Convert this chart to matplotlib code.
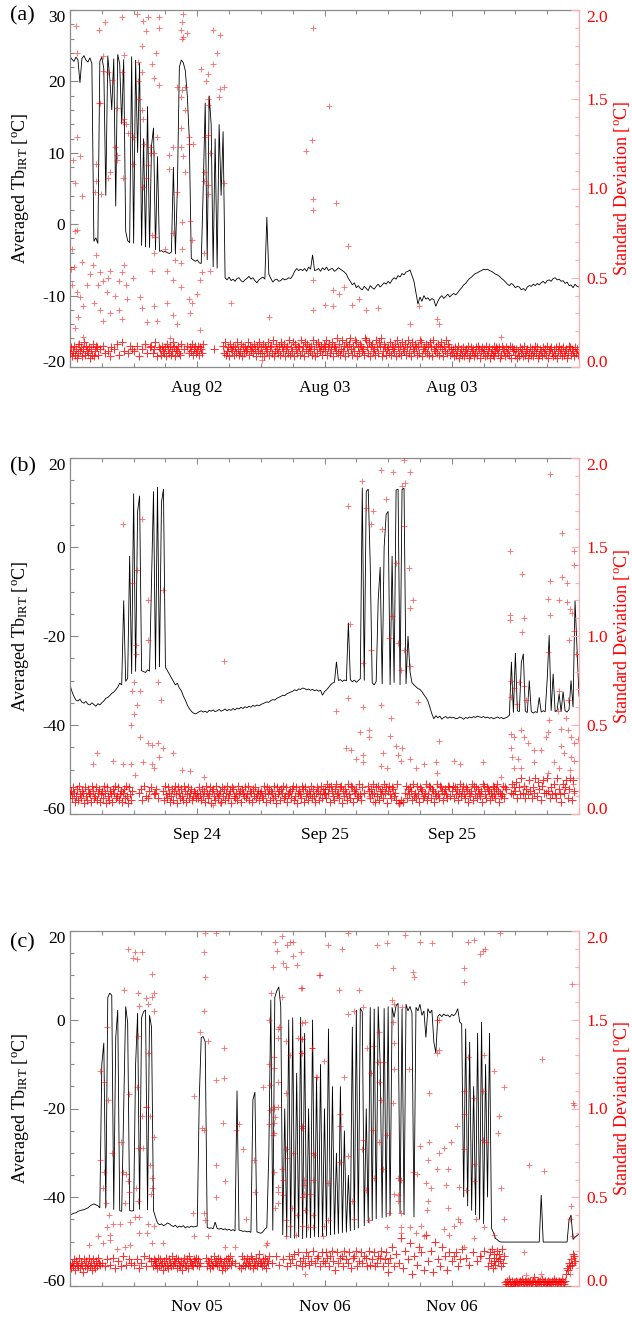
import matplotlib
matplotlib.use("Agg")
import matplotlib.pyplot as plt
from matplotlib.ticker import MultipleLocator

plt.rcParams['font.family'] = ['Liberation Serif', 'DejaVu Serif']
plt.rcParams['mathtext.fontset'] = 'custom'
plt.rcParams['mathtext.rm'] = 'Liberation Serif'
plt.rcParams['mathtext.it'] = 'Liberation Serif:italic'
plt.rcParams['axes.unicode_minus'] = False

# ---------------------------------------------------------------- data
# Averaged IRT brightness temperature [degC], one value every 0.25 h
TB_STEP = 0.25
TB_A = [
    23.5, 23.1, 22.8, 23.4, 23.0, 19.8, 23.2, 23.6, 23.0, 22.7, 23.3, 22.5, -2.4, -1.9, -2.7, 22.8,
    23.4, 21.8, 4.0, 23.6, 20.5, 16.0, 23.2, 2.5, 23.8, 22.4, 14.0, 23.1, -1.0, -2.3, -2.6, 23.5,
    -2.7, 23.0, 10.0, 22.6, -3.0, 12.0, -3.2, 16.5, -3.3, 11.0, 13.5, -3.6, 9.5, -3.8, -3.7, -3.9,
    -3.8, -4.0, -4.1, -3.9, 8.0, -4.2, 5.0, 22.0, 23.0, 22.6, 21.5, 18.0, 12.0, -4.8, -5.0, -5.2,
    -5.0, -5.4, -5.5, 5.0, 17.0, -5.0, 18.0, 14.0, -6.0, 12.0, -6.2, 14.0, 4.0, 13.0, -7.5, -7.8,
    -7.4, -7.9, -7.7, -8.0, -7.6, -7.5, -7.9, -8.1, -7.8, -7.6, -7.3, -7.7, -7.5, -7.9, -8.2, -7.8,
    -7.6, -7.4, -7.7, 1.0, -7.0, -7.6, -8.1, -7.8, -7.7, -8.0, -7.9, -7.6, -7.8, -7.7, -7.5, -7.6,
    -7.2, -6.6, -6.2, -6.5, -6.3, -6.5, -6.2, -6.6, -6.0, -6.3, -4.3, -6.5, -6.4, -6.2, -6.6, -6.1,
    -6.4, -6.0, -6.5, -6.3, -6.2, -6.6, -6.4, -6.1, -6.3, -6.5, -6.7, -7.0, -7.6, -8.0, -8.5, -8.2,
    -8.9, -8.6, -9.0, -9.2, -8.7, -9.0, -9.3, -8.6, -8.9, -9.1, -8.7, -8.4, -8.8, -8.5, -8.2, -8.4,
    -8.0, -8.3, -7.8, -7.5, -7.7, -7.2, -7.4, -6.9, -7.1, -6.7, -6.6, -6.4, -7.2, -8.0, -9.6, -11.2,
    -10.2, -10.8, -10.0, -10.5, -10.3, -10.7, -10.4, -10.6, -11.5, -10.8, -10.3, -10.0, -10.4, -10.1, -9.8, -10.2,
    -9.9, -9.7, -9.9, -9.6, -9.2, -8.9, -8.5, -8.3, -7.9, -7.6, -7.4, -7.1, -6.9, -6.8, -6.6, -6.5,
    -6.3, -6.4, -6.3, -6.5, -6.6, -6.8, -7.0, -7.1, -7.3, -7.6, -7.8, -8.1, -8.4, -8.6, -8.3, -8.5,
    -8.9, -8.7, -8.8, -9.2, -9.0, -9.3, -8.8, -8.6, -8.7, -8.4, -8.6, -8.3, -8.5, -8.2, -8.0, -8.3,
    -7.9, -7.8, -8.0, -7.6, -7.5, -7.8, -7.7, -8.0, -7.9, -8.3, -8.1, -8.6, -8.5, -8.9, -8.4, -8.7,
    -8.8,
]
TB_B = [
    -31.0, -32.5, -33.6, -34.4, -34.6, -34.2, -34.9, -35.1, -34.7, -35.3, -35.5, -35.0, -35.4, -35.8, -35.2, -35.5,
    -35.0, -34.6, -34.0, -33.8, -33.4, -32.9, -32.6, -32.1, -31.5, -30.6, -31.0, -12.0, -30.2, -29.5, -2.0, -28.5,
    12.0, -28.0, 8.0, 11.5, -27.8, -28.0, -28.2, -27.6, -27.9, -8.0, 12.5, -27.5, 13.5, -27.0, 10.0, 13.0,
    -27.0, -27.8, -28.6, -29.4, -30.2, -31.0, -30.6, -31.7, -32.3, -33.5, -34.4, -35.5, -36.3, -36.9, -37.3, -37.5,
    -37.3, -37.0, -36.8, -37.1, -36.9, -37.2, -36.7, -36.9, -36.6, -37.0, -36.8, -36.5, -36.9, -36.7, -36.4, -36.8,
    -36.5, -36.7, -36.3, -36.6, -36.2, -36.4, -36.0, -36.3, -35.9, -36.1, -35.8, -36.0, -35.6, -35.8, -35.5, -35.7,
    -35.4, -35.2, -35.0, -34.8, -34.9, -34.5, -34.3, -34.4, -34.0, -33.8, -33.6, -33.3, -33.4, -33.0, -32.8, -32.6,
    -32.4, -32.1, -32.3, -31.9, -32.0, -31.7, -31.8, -32.1, -31.9, -32.2, -32.0, -32.3, -32.1, -32.4, -32.2, -33.3,
    -32.5, -32.1, -31.6, -31.0, -30.6, -30.4, -25.8, -30.0, -29.8, -30.2, -29.9, -30.1, -17.0, -29.8, -30.3, -29.9,
    -30.4, -30.0, -29.6, 13.3, -30.0, 12.5, 13.0, -4.0, -30.5, -31.0, -30.2, -12.0, -4.5, -30.8, 0.0, 7.3,
    8.0, -31.0, -2.0, -30.5, 12.8, 13.0, -31.0, 12.9, 13.2, -30.8, -20.0, -28.0, -30.5, -31.0, -31.4, -31.8,
    -32.0, -32.5, -33.2, -33.8, -34.6, -36.0, -37.5, -38.6, -37.9, -38.4, -38.0, -38.7, -38.3, -38.1, -38.5, -38.2,
    -38.4, -38.3, -38.6, -38.5, -38.2, -38.4, -38.7, -38.3, -38.5, -38.2, -38.4, -38.1, -38.3, -38.0, -38.2, -38.3,
    -38.1, -38.4, -38.2, -38.5, -38.3, -38.6, -38.4, -38.2, -38.5, -38.3, -38.6, -38.4, -38.2, -37.8, -25.8, -37.2,
    -23.8, -36.8, -37.0, -26.0, -24.0, -36.9, -37.2, -30.0, -37.0, -37.3, -37.0, -37.2, -33.8, -37.1, -36.8, -37.0,
    -29.8, -19.8, -36.8, -28.5, -37.0, -36.7, -33.0, -37.0, -32.5, -36.8, -37.1, -36.5, -30.0, -36.0, -12.0, -23.0,
    -33.5,
]
TB_C = [
    -44.0, -43.8, -43.6, -43.5, -43.2, -43.0, -42.9, -42.8, -42.6, -42.4, -42.0, -41.7, -41.5, -41.7, -41.9, -42.4,
    -10.0, -5.2, -42.5, 5.0, 6.0, 5.5, -42.8, -4.0, 2.2, -43.0, -43.2, -20.0, 3.0, -0.7, -43.0, -43.1,
    -43.0, -10.0, 1.5, -42.8, 0.5, 1.8, 2.2, -42.9, 1.0, -1.6, -43.0, -44.5, -45.8, -46.2, -46.0, -46.4,
    -46.2, -45.8, -46.0, -46.4, -46.6, -46.3, -46.8, -46.5, -46.7, -46.4, -46.9, -46.6, -46.8, -46.5, -46.7, -46.6,
    -46.5, -18.0, -4.0, -3.8, -5.0, -46.8, -47.0, -46.9, -47.1, -45.6, -47.0, -47.2, -47.0, -47.3, -47.1, -47.4,
    -47.2, -47.5, -47.3, -47.6, -16.0, -47.4, -47.5, -47.7, -47.6, -47.8, -47.7, -47.9, -18.0, -16.3, -47.8, -48.0,
    -48.1, -47.8, -47.2, -46.8, -30.0, 4.5, -47.5, 5.0, 6.5, 7.4, 3.0, -48.5, -20.0, -49.0, 0.0, -49.2,
    0.5, -49.3, -12.0, -49.0, 0.6, -49.4, -3.0, -49.1, -20.0, -49.2, 0.0, -48.9, -13.0, -49.0, -10.0, -48.8,
    -20.0, -48.7, -2.0, -48.5, -15.0, -48.4, -30.0, -48.2, -15.0, -48.0, -25.0, -47.9, -35.0, -47.6, -1.6, -47.4,
    2.2, -47.0, 2.6, 1.8, -46.5, -20.0, -45.8, 2.8, -45.3, 2.5, -44.9, 3.0, -10.0, -44.6, 2.6, -44.5,
    3.0, -44.2, 2.8, 0.5, 3.2, 3.7, -43.6, 2.5, -44.0, 3.5, 2.0, 3.0, 1.5, -44.5, 2.8, 2.0,
    3.5, 1.0, 2.0, -4.0, 2.5, 1.5, 2.2, -5.0, -7.5, 0.8, 1.2, 0.7, 1.3, 0.9, 1.1, 0.6,
    1.2, 0.9, 1.4, 2.5, -0.5, -1.0, -40.0, -2.0, -42.0, -5.0, -43.0, -15.0, -44.0, -3.0, -45.0, -0.5,
    -46.0, -10.0, -40.0, -3.0, -47.0, -48.0, -49.3, -49.6, -50.0, -50.1, -50.1, -50.1, -50.1, -50.1, -50.1, -50.1,
    -50.1, -50.1, -50.1, -50.1, -50.1, -50.1, -50.1, -50.1, -50.1, -50.1, -50.1, -50.1, -50.1, -39.5, -50.1, -50.1,
    -50.1, -50.1, -50.1, -50.1, -50.1, -50.1, -50.1, -50.1, -50.1, -50.1, -50.1, -45.0, -44.0, -49.5, -49.0, -48.6,
    -48.3,
]

# Standard deviation of the bulk of samples, coded one character per
# 0.125 h (base-36 digit x 0.01 degC, '.' = no sample); one row = 8 h
SD_STEP = 0.125
SD_ROW_HOURS = 8.0
SD_UNIT = 0.01
SD_BAND_A = [
    "8b69c7a58d9b6ae7c98b5a7d69cb" "7.a..c.8..9.6b..a..d.7..e.9...8.c.a",
    "9..c.6..a..d.8..b" "c.8a.e.6.b" "a7c98b6da8c79eb6a9c87d" "..a..c.8" "b9d7ac8",
    "9c7ba8d" "..........a........" "c8e79b6da9c7b8ea79d6c8b9ae7c9b8da6c9e8",
    "b8d6ca9e7bc8f69da8c7eb9d6ac8f7b9e6da8cb7f9c6ead8b9c7fa6d8eb9c7ad",
    "c9f7bd8ae6cb9g8d7af9c6eb8dga7c9fe6b8dc9a7gfb8e6cd9a7fb8ecg69db7a",
    "b8e7ca9d6fb8c7ea9d7bf8c6ea9db7c8fe6ab9d8c7eb6fa9c8d7bea6c9f8db7a",
    "8a6b79c58a7b69a8c57b9a68b7ca59b8a6c79b58a7c69ba8b57ca96b8a7c5b9a",
    "7a596b8a6c79a58b7a69c8b57a96b8a7c59ab86a7b59c8a6b79a58cb7a96b8a7",
]
SD_BAND_B = [
    "bd9fc7ae8gb9dc6fa8ecb7gd9af8ce7bd9gc6fa8db7ecg9af8bd7ce9ga6fb8d..",
    "....." "c.e8.g.a.9d.f..bc.e.9." "..." "d8gb9fc7ae8dgb6fc9ea8gd7bf9ce8" "adc9",
    "c9fb8ead7gc9bf6dea8gc9bd7fae8cg9bd6fea9c8gbd7ecaf9bg8dc7eaf9bd8c",
    "da9gc7fbe8dc9ga6fbd8ecg9af7bcd9eg8af6cdb9ge7fac8dbg9ea7cfd8bg9ec",
    "eb9hcf7gda8ehbc9fg6daec8hb9gf7dce9ahb8f" ".c..." "gd9ebhc7fag8dbe9hcf6",
    "dgb9feac8h" ".6.8.7." "cg9ebfd8hac9gb7fed9ach8bgf9ed7cahb9gfd8ceb9gfa",
    "dg9fbe8chadgb9fe7cadh8gbf9ecad7hgb9fed8cagbf9ehd7cabg9fe" "...." "chbf",
    "di9.fbk.cg9e.bjd.9fck.aie.8gjc.ckd.9fb.hc9k.eb7.hcfj.9ek.8jd....",
]
SD_BAND_C = [
    "cadbf9ecbgadc8fbeacgbd9fcaebgdc" ".d..b.f..c..g.a..e..b.h..c..f.d.",
    "c..f.a.d..h.b..g.e." "bfcedagbfcd9ebgcafdbhcedgafcbe9dgcbfahedcbfeg",
    "cfbd" "....." "gbedafcbhdecgbfd9ceafbgdhce" "..d...b." "ahcfbdgcebhfadcgbeid",
    "dbfcgaedh" "..d...h..c...f..." "b.hd.f.i.c.j.e.b" "g.dj.hc.e.k.d.gh.b.je.",
    "d.jg.bh.ke.9.jd.g.hbk.f.dj.a.gh.kb.e.jd.h.gb.kc.f.jb.dh.gk.b.fj.d.",
    "8.g.m.b.i..d.r.a.k..f.o.7.h..c.m.j..9.t.e..k.8.p..f.b.m..h.9.j..",
    "e.h.j.b.f" ".l...g..c...j...e..h...k..." "bgjdlaeicgkeifbldh" "2131420312",
    "232123242132232312352123231422312322132423123224213" "7a9dbfcihe" "...",
]

# Isolated high standard-deviation samples: (hours, degC)
SD_HIGH_A = [
    (0.8, 1.91), (6.6, 1.96), (3.7, 1.89), (4.4, 1.93), (8.4, 1.98), (9.8, 1.96), (9.2, 1.94), (9.6, 1.88),
    (11.2, 1.96), (11.2, 1.90), (14.2, 1.98), (14.1, 1.93), (14.0, 1.89), (14.7, 1.87), (14.2, 1.85),
    (18.0, 1.89), (18.9, 1.86), (18.5, 1.76), (18.0, 1.70), (16.5, 1.67), (17.3, 1.64), (17.1, 1.60),
    (18.9, 1.56), (19.4, 1.57), (18.7, 1.51), (17.4, 1.50), (17.3, 1.47), (10.8, 1.76), (10.3, 1.70),
    (10.6, 1.62), (11.2, 1.58), (9.0, 1.80), (8.6, 1.71), (9.1, 1.65), (8.6, 1.60), (8.7, 1.50),
    (9.0, 1.44), (6.8, 1.75), (6.6, 1.65), (4.2, 1.74), (4.2, 1.66), (3.8, 1.48), (4.8, 1.65), (5.3, 1.61),
    (5.9, 1.45), (0.9, 1.76), (0.9, 1.29), (1.3, 1.18), (0.4, 1.16), (0.6, 1.03), (1.5, 0.96),
    (14.1, 1.84), (13.5, 1.57), (14.4, 1.57), (14.1, 1.55), (14.0, 1.51), (14.4, 1.44), (13.9, 1.34),
    (13.9, 1.23), (14.2, 1.18), (14.5, 1.09), (14.9, 1.25), (15.5, 1.25), (13.0, 1.23), (12.4, 1.19),
    (12.4, 1.11), (13.5, 0.98), (14.9, 1.29), (6.8, 1.39), (7.1, 1.36), (6.7, 1.37), (7.3, 1.31),
    (7.9, 1.29), (9.2, 1.39), (9.3, 1.25), (10.1, 1.23), (11.0, 1.29), (10.0, 1.20), (9.8, 1.13),
    (10.6, 1.20), (17.0, 1.29), (17.3, 1.30), (17.6, 1.20), (16.9, 1.04), (17.3, 0.97), (19.4, 1.03),
    (16.9, 1.09), (17.4, 1.02), (5.0, 1.09), (4.8, 1.06), (5.9, 1.16), (5.7, 1.23), (5.9, 1.19),
    (6.7, 1.06), (7.9, 1.14), (9.5, 1.06), (9.2, 1.01), (3.3, 1.14), (3.3, 1.04), (3.2, 0.98),
    (3.9, 0.97), (3.7, 1.48),
    (30.5, 1.90), (32.6, 1.46), (30.4, 1.27), (29.7, 1.21), (30.5, 0.94), (30.5, 0.88), (33.4, 0.92),
    (34.9, 0.68), (30.6, 0.49), (33.1, 0.43), (34.4, 0.45), (33.8, 0.41), (30.6, 0.32), (32.1, 0.35),
    (33.1, 0.34), (35.5, 0.35), (36.3, 0.38), (37.2, 0.32), (38.7, 0.33), (42.8, 0.24), (43.9, 0.34),
    (46.2, 0.27), (46.4, 0.24), (54.2, 0.17),
    (0.3, 0.66), (0.1, 0.55), (0.5, 0.56), (1.5, 0.59), (0.3, 0.46), (0.9, 0.42), (1.3, 0.39),
    (2.1, 0.46), (2.5, 0.52), (2.9, 0.57), (3.3, 0.63), (3.0, 0.36), (3.5, 0.46), (3.8, 0.53),
    (4.2, 0.48), (4.7, 0.42), (4.8, 0.50), (5.0, 0.54), (5.7, 0.40), (6.1, 0.48), (6.6, 0.53),
    (6.8, 0.57), (7.1, 0.46), (7.9, 0.50), (8.8, 0.39), (9.1, 0.33), (7.2, 0.38), (6.6, 0.27),
    (6.1, 0.32), (5.0, 0.30), (4.2, 0.26), (3.8, 0.32), (1.6, 0.34), (1.0, 0.28), (0.6, 0.22),
    (10.3, 0.54), (10.5, 0.64), (10.5, 0.34), (12.2, 0.54), (12.2, 0.36), (13.0, 0.49), (12.9, 0.29),
    (13.9, 0.45), (13.5, 0.24), (14.9, 0.38), (15.1, 0.30), (15.4, 0.36), (16.0, 0.41), (16.4, 0.49),
    (16.6, 0.53), (15.4, 0.71), (16.8, 0.64), (17.6, 0.54), (13.9, 0.58), (14.1, 0.66), (13.0, 0.75),
    (13.2, 0.60), (10.7, 0.73), (12.0, 0.66), (20.2, 0.36), (25.0, 0.28), (24.2, 0.04), (12.6, 0.16),
    (16.4, 0.21), (9.7, 0.25), (11.0, 0.26), (1.0, 0.13), (1.6, 0.17), (0.6, 0.76), (0.9, 0.77),
    (15.1, 0.82), (14.1, 0.81), (10.3, 0.74),
]
SD_HIGH_B = [
    (7.7, 0.50), (8.1, 0.56), (8.4, 0.61), (7.8, 0.69), (8.8, 0.69), (8.1, 0.74), (8.3, 0.90), (8.3, 0.95),
    (9.8, 0.98), (11.1, 0.74), (11.5, 0.64), (8.8, 0.43), (9.8, 0.40), (10.3, 0.39), (11.1, 0.40),
    (11.7, 0.37), (11.2, 0.32), (12.9, 0.34), (9.2, 0.29), (10.3, 0.28), (10.6, 0.26), (3.4, 0.34),
    (5.4, 0.30), (2.9, 0.28), (6.7, 0.28), (7.7, 0.28), (19.4, 0.86), (14.1, 0.25), (8.2, 0.22),
    (16.9, 0.21), (15.1, 0.24), (18.0, 0.05), (18.9, 0.06),
    (6.7, 1.63), (9.1, 1.66), (8.4, 1.37), (7.8, 1.30), (9.8, 1.20), (11.7, 1.26),
    (35.0, 1.73), (36.7, 1.87), (39.1, 1.93), (40.6, 1.92), (42.7, 1.92), (42.0, 1.99), (42.1, 1.86),
    (41.8, 1.84), (37.2, 1.72), (38.1, 1.70), (37.9, 1.63), (39.7, 1.77), (39.2, 1.60), (42.0, 1.62),
    (41.0, 1.41), (42.6, 1.38), (43.1, 1.20), (42.7, 1.16), (40.5, 1.11), (55.3, 1.48), (56.8, 1.35),
    (60.4, 1.91), (61.9, 1.58), (63.4, 1.48), (63.4, 1.40), (60.4, 1.31), (61.9, 1.33), (62.5, 1.30),
    (60.1, 1.21), (61.5, 1.20), (62.5, 1.19), (62.9, 1.15), (63.1, 1.13), (60.4, 1.12), (55.3, 1.12),
    (57.1, 1.10),
    (35.2, 1.07), (37.8, 0.92), (40.1, 0.99), (41.2, 0.96), (42.0, 0.92), (36.8, 0.85), (41.6, 0.81),
    (42.8, 0.83), (35.0, 0.65), (33.4, 0.58), (36.8, 0.60), (39.1, 0.61), (40.3, 0.54), (43.7, 0.63),
    (36.5, 0.46), (37.6, 0.47), (37.6, 0.43), (40.2, 0.44), (46.4, 0.41), (34.7, 0.37), (35.3, 0.36),
    (35.9, 0.31), (36.8, 0.33), (36.9, 0.29), (39.4, 0.34), (41.0, 0.38), (41.8, 0.37), (41.2, 0.33),
    (41.6, 0.30), (42.8, 0.31), (39.1, 0.27), (39.9, 0.26), (43.5, 0.26), (44.5, 0.28), (46.0, 0.29),
    (48.3, 0.30), (49.1, 0.28), (51.9, 0.29), (54.2, 0.21), (46.2, 0.23), (55.3, 1.09), (56.8, 1.02),
    (55.4, 0.75), (55.8, 0.71), (56.5, 0.74), (55.4, 0.66), (56.2, 0.62), (57.1, 0.72), (57.3, 0.64),
    (55.4, 0.45), (55.8, 0.43), (56.7, 0.47), (57.1, 0.43), (57.6, 0.40), (58.3, 0.36), (55.4, 0.37),
    (55.6, 0.32), (56.3, 0.31), (55.8, 0.26), (56.7, 0.26), (58.3, 0.29), (59.2, 0.36), (59.9, 0.43),
    (60.1, 0.46), (60.2, 0.53), (60.1, 0.91), (61.4, 0.58), (61.5, 0.69), (62.6, 0.64), (62.4, 0.54),
    (62.8, 0.98), (63.4, 1.03), (63.6, 0.90), (61.7, 0.48), (62.6, 0.47), (63.0, 0.43), (63.4, 0.40),
    (63.9, 0.42), (61.7, 0.38), (62.1, 0.34), (63.0, 0.32), (63.4, 0.30), (60.9, 0.29), (61.5, 0.26),
    (62.9, 0.25), (60.1, 0.23), (63.3, 0.17), (63.4, 0.12), (41.2, 0.06), (41.5, 0.06), (38.1, 0.07),
    (37.6, 0.10),
]
SD_HIGH_C = [
    (7.3, 1.90), (7.9, 1.85), (8.2, 1.88), (9.0, 1.88), (8.4, 1.84), (6.8, 1.67), (10.3, 1.76), (8.6, 1.65),
    (9.5, 1.62), (10.5, 1.65), (10.3, 1.63), (8.7, 1.58), (9.8, 1.59), (10.6, 1.55), (4.7, 1.46),
    (8.6, 1.41), (9.8, 1.31), (3.8, 1.21), (4.3, 1.15), (4.8, 1.05), (7.4, 1.08), (8.4, 1.12), (9.6, 1.01),
    (16.8, 1.88), (17.0, 1.99), (18.3, 1.99), (17.0, 1.74), (16.8, 1.55), (16.4, 1.43), (17.4, 1.38),
    (18.3, 1.16), (19.4, 1.17), (19.4, 1.34), (15.6, 1.07), (25.8, 1.94), (26.6, 1.97), (27.6, 1.94),
    (28.1, 1.94), (27.3, 1.92), (26.0, 1.89), (28.1, 1.86), (29.1, 1.88), (25.5, 1.80), (26.8, 1.82),
    (27.1, 1.80), (28.5, 1.81), (29.2, 1.68), (25.3, 1.65), (26.6, 1.63), (25.0, 1.50), (26.2, 1.45),
    (26.3, 1.46), (26.1, 1.40), (27.1, 1.38), (28.7, 1.40), (29.5, 1.49), (29.2, 1.39), (29.1, 1.31),
    (27.6, 1.30), (25.7, 1.29), (25.0, 1.25), (25.6, 1.23), (30.4, 1.34), (31.0, 1.18), (31.3, 1.75),
    (26.2, 1.15), (24.3, 1.12), (25.1, 1.13), (27.1, 1.09), (25.7, 1.01),
    (32.5, 1.92), (34.2, 1.90), (38.6, 1.92), (39.8, 1.93), (42.1, 1.98), (44.0, 1.94), (45.5, 1.93),
    (50.0, 1.94), (50.8, 1.95), (52.2, 1.90), (51.9, 1.89), (51.5, 1.87), (54.1, 1.99), (35.0, 1.99),
    (40.6, 1.79), (43.1, 1.77), (43.3, 1.74), (49.6, 1.79), (49.6, 1.71), (31.4, 1.75), (33.8, 1.67),
    (36.3, 1.67), (29.1, 1.68), (63.1, 1.70), (35.0, 1.53), (35.7, 1.55), (36.8, 1.57), (40.5, 1.61),
    (40.8, 1.59), (41.8, 1.57), (40.6, 1.49), (46.2, 1.50), (29.2, 1.48), (29.2, 1.39), (30.4, 1.34),
    (31.9, 1.27), (29.2, 1.31), (30.9, 1.18), (34.4, 1.18), (37.3, 1.34), (38.1, 1.35), (38.8, 1.43),
    (37.9, 1.20), (38.7, 1.26), (38.8, 1.15), (39.4, 1.26), (40.8, 1.22), (40.8, 1.37), (42.6, 1.22),
    (46.1, 1.31), (46.4, 1.33), (45.1, 1.09), (46.4, 1.50), (49.6, 1.10), (50.0, 1.29), (51.9, 1.10),
    (52.0, 1.30), (53.3, 1.21), (54.6, 1.12), (59.4, 1.28), (63.3, 1.03), (50.8, 1.06), (39.1, 1.05),
    (40.6, 1.03),
    (3.8, 0.71), (4.3, 0.64), (4.2, 0.55), (4.5, 0.47), (4.9, 0.40), (4.7, 0.33), (5.3, 0.75), (6.4, 0.81),
    (6.7, 0.64), (7.3, 0.59), (7.1, 0.63), (7.4, 0.53), (6.9, 0.47), (6.3, 0.35), (5.4, 0.35), (5.0, 0.29),
    (5.0, 0.26), (7.6, 0.36), (8.2, 0.39), (8.6, 0.78), (9.2, 0.78), (9.0, 0.96), (10.1, 0.96), (9.5, 1.01),
    (10.0, 0.68), (10.3, 0.61), (10.6, 0.84), (10.3, 0.55), (10.2, 0.52), (8.3, 0.55), (8.6, 0.48),
    (8.7, 0.39), (9.8, 0.35), (10.5, 0.34), (8.7, 0.30), (9.7, 0.30), (7.6, 0.23), (6.9, 0.22), (4.2, 0.24),
    (5.9, 0.21), (10.3, 0.24), (11.7, 0.24), (2.4, 0.23), (3.5, 0.28), (15.6, 0.28), (17.3, 0.28),
    (16.6, 0.89), (16.8, 0.88), (18.3, 0.68), (18.4, 0.50), (19.5, 0.59), (19.2, 0.92), (20.9, 0.88),
    (21.3, 0.91), (21.7, 0.77), (23.1, 0.71), (23.2, 0.53), (22.1, 0.38), (16.8, 0.41), (17.0, 0.37),
    (15.5, 0.41), (19.5, 0.22), (20.8, 0.22), (24.6, 0.23), (24.8, 0.24), (25.0, 0.91), (25.6, 0.92),
    (25.8, 0.95), (25.7, 0.86), (25.5, 0.85), (25.1, 0.99), (25.7, 1.00), (26.2, 1.01), (25.7, 0.64),
    (26.1, 0.56), (26.2, 0.53), (26.1, 0.47), (26.8, 0.51), (25.8, 0.44), (26.8, 0.60), (26.6, 0.66),
    (27.1, 0.77), (27.3, 0.72), (28.1, 0.75), (27.2, 0.37), (27.9, 0.44), (27.6, 0.34), (28.5, 0.40),
    (29.2, 0.89), (30.6, 0.75), (29.4, 0.57), (30.6, 0.60), (30.2, 0.52), (29.2, 0.50), (29.2, 0.34),
    (29.9, 0.33), (30.6, 0.33), (29.5, 0.07), (28.4, 0.29), (27.1, 0.28),
    (29.2, 0.90), (30.7, 0.74), (29.4, 0.60), (29.4, 0.52), (29.6, 0.43), (30.6, 0.40), (32.5, 0.58),
    (32.5, 0.37), (31.9, 0.34), (31.8, 0.28), (34.0, 0.97), (33.9, 0.90), (33.9, 0.70), (34.9, 0.73),
    (35.5, 0.48), (35.7, 0.38), (36.7, 0.77), (36.9, 0.82), (37.2, 0.54), (37.6, 0.37), (38.1, 0.88),
    (38.2, 0.61), (38.8, 0.81), (39.3, 0.66), (39.9, 0.85), (39.8, 0.33), (40.1, 0.41), (40.7, 0.52),
    (41.2, 0.61), (41.6, 0.60), (41.2, 0.51), (41.3, 0.48), (41.6, 0.41), (41.6, 0.33), (41.6, 0.30),
    (43.1, 0.64), (43.6, 0.63), (44.0, 0.79), (45.1, 0.81), (45.0, 0.71), (44.7, 0.58), (45.4, 0.55),
    (45.0, 0.48), (44.9, 0.43), (44.1, 0.34), (44.5, 0.28), (43.5, 0.30), (42.8, 0.33), (46.4, 0.75),
    (47.0, 0.78), (46.2, 0.66), (47.5, 0.66), (47.9, 0.81), (47.3, 0.57), (47.5, 0.44), (48.8, 0.38),
    (49.1, 0.36), (48.3, 0.34), (47.0, 0.32), (47.6, 0.29), (48.9, 0.56), (49.5, 0.77), (49.8, 0.54),
    (49.5, 0.22), (48.6, 0.90), (49.5, 0.97), (53.9, 0.96), (53.8, 0.86), (54.2, 0.55), (53.3, 0.29),
    (54.6, 0.38), (51.7, 0.17), (50.8, 0.27), (52.0, 0.33), (51.0, 0.38), (51.9, 0.82), (52.3, 0.81),
    (50.8, 0.69), (50.8, 0.59), (57.7, 0.68), (59.6, 0.65), (57.1, 0.19), (59.2, 0.07), (57.3, 0.06),
    (63.0, 0.45), (62.9, 0.38), (63.3, 0.28), (63.4, 0.16), (63.1, 0.13), (62.8, 0.11), (63.4, 0.13),
    (63.4, 1.02), (62.9, 0.07),
]

# Time axis (hours from the start of each record) and its labels
TIME_TICKS = [0, 16, 32, 48, 64]
XLABELS_A = ['', 'Aug 02', 'Aug 03', 'Aug 03', '']
XLABELS_B = ['', 'Sep 24', 'Sep 25', 'Sep 25', '']
XLABELS_C = ['', 'Nov 05', 'Nov 06', 'Nov 06', '']
TB_TICKS_A = [-20, -10, 0, 10, 20, 30]
TB_TICKS_BC = [-60, -40, -20, 0, 20]
SD_TICKS = [0.0, 0.5, 1.0, 1.5, 2.0]

# ---------------------------------------------------------------- helpers
def band_points(rows):
    t, s = [], []
    for r, row in enumerate(rows):
        for j, ch in enumerate(row):
            if ch == '.':
                continue
            t.append(r * SD_ROW_HOURS + j * SD_STEP)
            s.append(int(ch, 36) * SD_UNIT)
    return t, s


GREY = '#8a8a8a'
PINK = '#ffb0b0'
RED = '#ff0000'
FS = 12.5

fig = plt.figure(figsize=(6.32, 13.2), dpi=100)

panels = [
    dict(tb=TB_A, band=SD_BAND_A, high=SD_HIGH_A, yt=TB_TICKS_A, ymin=2, xl=XLABELS_A,
         tag='(a)', rect=[70 / 632, 1 - 367 / 1320, 509 / 632, 357 / 1320], tag_y=16),
    dict(tb=TB_B, band=SD_BAND_B, high=SD_HIGH_B, yt=TB_TICKS_BC, ymin=5, xl=XLABELS_B,
         tag='(b)', rect=[70 / 632, 1 - 814 / 1320, 509 / 632, 356 / 1320], tag_y=467),
    dict(tb=TB_C, band=SD_BAND_C, high=SD_HIGH_C, yt=TB_TICKS_BC, ymin=5, xl=XLABELS_C,
         tag='(c)', rect=[70 / 632, 1 - 1286 / 1320, 509 / 632, 355 / 1320], tag_y=943),
]

for p in panels:
    ax = fig.add_axes(p['rect'])
    tb_t = [i * TB_STEP for i in range(len(p['tb']))]
    ax.plot(tb_t, p['tb'], color='black', lw=0.6, solid_joinstyle='miter')
    ax.set_xlim(TIME_TICKS[0], TIME_TICKS[-1])
    ax.set_ylim(p['yt'][0], p['yt'][-1])
    ax.set_xticks(TIME_TICKS)
    ax.set_xticklabels(p['xl'])
    ax.xaxis.set_minor_locator(MultipleLocator(4))
    ax.set_yticks(p['yt'])
    ax.yaxis.set_minor_locator(MultipleLocator(p['ymin']))
    ax.tick_params(axis='both', which='both', direction='in', color=GREY, width=0.8,
                   labelsize=FS, top=True, right=False)
    ax.tick_params(axis='y', which='major', length=5.5, pad=3.5)
    ax.tick_params(axis='y', which='minor', length=3)
    ax.tick_params(axis='x', which='major', length=4.5, pad=9.5)
    ax.tick_params(axis='x', which='minor', length=3)
    for side in ('left', 'top', 'bottom'):
        ax.spines[side].set_color(GREY)
        ax.spines[side].set_linewidth(0.9)
    ax.spines['right'].set_visible(False)
    yticks = ax.yaxis.get_major_ticks()
    yticks[-1].label1.set_va('top')
    yticks[0].label1.set_va('baseline')

    ax2 = ax.twinx()
    bt, bs = band_points(p['band'])
    ax2.plot(bt, bs, ls='none', marker='+', ms=6, mew=0.75, color=RED, alpha=0.8)
    ht = [h[0] for h in p['high']]
    hs = [h[1] for h in p['high']]
    ax2.plot(ht, hs, ls='none', marker='+', ms=5, mew=0.6, color=RED, alpha=0.6)
    ax2.set_ylim(SD_TICKS[0], SD_TICKS[-1])
    ax2.set_yticks(SD_TICKS)
    ax2.yaxis.set_minor_locator(MultipleLocator(0.1))
    ax2.tick_params(axis='y', which='both', direction='in', color=PINK, width=0.8,
                    labelsize=FS, labelcolor=RED)
    ax2.tick_params(axis='y', which='major', length=5.5, pad=5.5)
    ax2.tick_params(axis='y', which='minor', length=3)
    for side in ('left', 'top', 'bottom'):
        ax2.spines[side].set_visible(False)
    ax2.spines['right'].set_color(PINK)
    ax2.spines['right'].set_linewidth(0.9)
    sticks = ax2.yaxis.get_major_ticks()
    sticks[-1].label2.set_va('top')
    sticks[0].label2.set_va('baseline')

    x0, y0, w, h = p['rect']
    yc = y0 + h / 2
    fig.text(21 / 632, yc, r'Averaged Tb$_{\rm IRT}$ [$^{\rm o}$C]', rotation=90,
             ha='center', va='center', fontsize=FS + 0.5)
    fig.text(622 / 632, yc, r'Standard Deviation [$^{\rm o}$C]', rotation=90,
             ha='center', va='center', fontsize=FS + 0.5, color=RED)
    fig.text(10 / 632, 1 - p['tag_y'] / 1320, p['tag'], ha='left', va='center', fontsize=16)

fig.savefig('out.png', dpi=100)
